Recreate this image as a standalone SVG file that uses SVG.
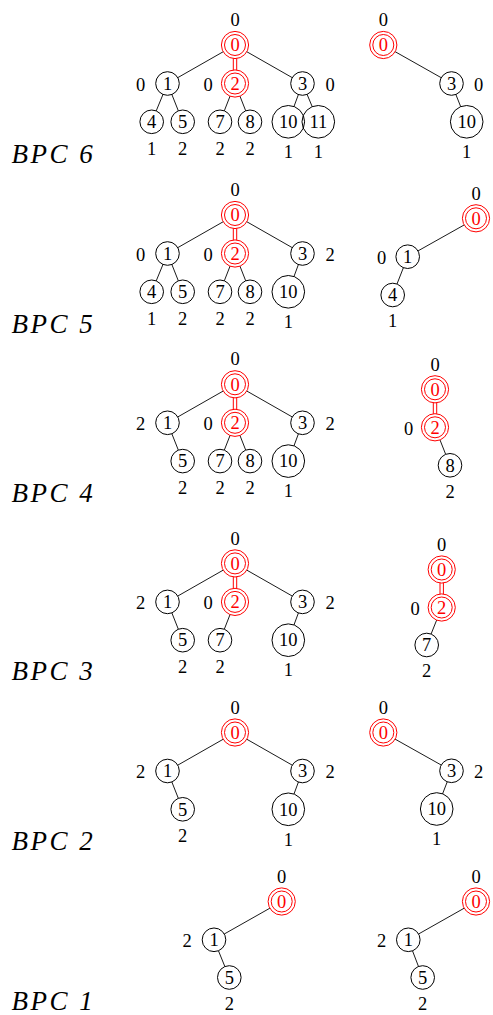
<svg xmlns="http://www.w3.org/2000/svg" width="493" height="1015" viewBox="0 0 493 1015">
  <style>
    text { font-family: "Liberation Serif", "DejaVu Serif", serif; font-size: 18.5px; text-anchor: middle; fill: #000; }
    .n circle { fill: #fff; stroke: #000; stroke-width: 1; }
    .n .hollow { fill: none; }
    .r circle { fill: #fff; stroke: #f00; stroke-width: 1; }
    .r .in { fill: none; }
    .r text { fill: #f00; }
    .e line { stroke: #000; stroke-width: 0.9; }
    .e .dbl { stroke: #f00; stroke-width: 4.4; }
    .e .dblc { stroke: #fff; stroke-width: 2.4; }
    .bpc { font-size: 27px; font-style: italic; text-anchor: start; letter-spacing: 2.5px; }
  </style>

  <!-- row titles -->
  <g id="titles">
    <text class="bpc" x="11.5" y="163">BPC 6</text>
    <text class="bpc" x="11.5" y="333">BPC 5</text>
    <text class="bpc" x="11.5" y="502">BPC 4</text>
    <text class="bpc" x="11.5" y="680">BPC 3</text>
    <text class="bpc" x="11.5" y="850">BPC 2</text>
    <text class="bpc" x="11.5" y="1010">BPC 1</text>
  </g>

  <!-- ===== BPC 6, full tree ===== -->
  <g id="bpc6-left">
    <g id="bpc6-left-edges" class="e">
      <line x1="235" y1="45" x2="167.5" y2="83.5"/>
      <line x1="235" y1="45" x2="302.5" y2="83.5"/>
      <line x1="167.5" y1="83.5" x2="151.7" y2="121.8"/>
      <line x1="167.5" y1="83.5" x2="182.7" y2="121.8"/>
      <line x1="235" y1="83.5" x2="220" y2="121.8"/>
      <line x1="235" y1="83.5" x2="250" y2="121.8"/>
      <line x1="302.5" y1="83.5" x2="288.3" y2="121.8"/>
      <line x1="307" y1="94.2" x2="312.2" y2="106.6"/>
      <line class="dbl" x1="235" y1="45" x2="235" y2="83.5"/>
      <line class="dblc" x1="235" y1="45" x2="235" y2="83.5"/>
    </g>
    <g id="bpc6-l-n0" class="r" transform="translate(235,45)"><circle r="13.6"/><circle class="in" r="10.5"/><text y="6.2">0</text></g>
    <g id="bpc6-l-n1" class="n" transform="translate(167.5,83.5)"><circle r="11.8"/><text y="6.2">1</text></g>
    <g id="bpc6-l-n2" class="r" transform="translate(235,83.5)"><circle r="13.6"/><circle class="in" r="10.5"/><text y="6.2">2</text></g>
    <g id="bpc6-l-n3" class="n" transform="translate(302.5,83.5)"><circle r="11.8"/><text y="6.2">3</text></g>
    <g id="bpc6-l-n4" class="n" transform="translate(151.7,121.8)"><circle r="11.8"/><text y="6.2">4</text></g>
    <g id="bpc6-l-n5" class="n" transform="translate(182.7,121.8)"><circle r="11.8"/><text y="6.2">5</text></g>
    <g id="bpc6-l-n7" class="n" transform="translate(220,121.8)"><circle r="11.8"/><text y="6.2">7</text></g>
    <g id="bpc6-l-n8" class="n" transform="translate(250,121.8)"><circle r="11.8"/><text y="6.2">8</text></g>
    <g id="bpc6-l-n10" class="n" transform="translate(288.3,121.8)"><circle r="16.3"/><text y="6.2">10</text></g>
    <g id="bpc6-l-n11" class="n" transform="translate(318.3,121.8)"><circle class="hollow" r="16.3"/><text y="6.2">11</text></g>
    <g id="bpc6-left-labels">
      <text x="235" y="26.2">0</text>
      <text x="140.7" y="90.7">0</text>
      <text x="208" y="90.7">0</text>
      <text x="330" y="90.7">0</text>
      <text x="151.7" y="154.5">1</text>
      <text x="182.7" y="154.5">2</text>
      <text x="220" y="154.5">2</text>
      <text x="250" y="154.5">2</text>
      <text x="288.3" y="158">1</text>
      <text x="318.3" y="158">1</text>
    </g>
  </g>

  <g id="bpc6-right">
    <g id="bpc6-right-edges" class="e">
      <line x1="383.3" y1="45" x2="451.5" y2="83.5"/>
      <line x1="451.5" y1="83.5" x2="466.7" y2="121.8"/>
    </g>
    <g id="bpc6-r-n0" class="r" transform="translate(383.3,45)"><circle r="13.6"/><circle class="in" r="10.5"/><text y="6.2">0</text></g>
    <g id="bpc6-r-n3" class="n" transform="translate(451.5,83.5)"><circle r="11.8"/><text y="6.2">3</text></g>
    <g id="bpc6-r-n10" class="n" transform="translate(466.7,121.8)"><circle r="16.3"/><text y="6.2">10</text></g>
    <g id="bpc6-right-labels">
      <text x="383.3" y="26.2">0</text>
      <text x="478.5" y="90.7">0</text>
      <text x="466.7" y="158">1</text>
    </g>
  </g>

  <!-- ===== BPC 5 ===== -->
  <g id="bpc5-left" transform="translate(0,170)">
    <g id="bpc5-left-edges" class="e">
      <line x1="235" y1="45" x2="167.5" y2="83.5"/>
      <line x1="235" y1="45" x2="302.5" y2="83.5"/>
      <line x1="167.5" y1="83.5" x2="151.7" y2="121.8"/>
      <line x1="167.5" y1="83.5" x2="182.7" y2="121.8"/>
      <line x1="235" y1="83.5" x2="220" y2="121.8"/>
      <line x1="235" y1="83.5" x2="250" y2="121.8"/>
      <line x1="302.5" y1="83.5" x2="288.3" y2="121.8"/>
      <line class="dbl" x1="235" y1="45" x2="235" y2="83.5"/>
      <line class="dblc" x1="235" y1="45" x2="235" y2="83.5"/>
    </g>
    <g id="bpc5-l-n0" class="r" transform="translate(235,45)"><circle r="13.6"/><circle class="in" r="10.5"/><text y="6.2">0</text></g>
    <g id="bpc5-l-n1" class="n" transform="translate(167.5,83.5)"><circle r="11.8"/><text y="6.2">1</text></g>
    <g id="bpc5-l-n2" class="r" transform="translate(235,83.5)"><circle r="13.6"/><circle class="in" r="10.5"/><text y="6.2">2</text></g>
    <g id="bpc5-l-n3" class="n" transform="translate(302.5,83.5)"><circle r="11.8"/><text y="6.2">3</text></g>
    <g id="bpc5-l-n4" class="n" transform="translate(151.7,121.8)"><circle r="11.8"/><text y="6.2">4</text></g>
    <g id="bpc5-l-n5" class="n" transform="translate(182.7,121.8)"><circle r="11.8"/><text y="6.2">5</text></g>
    <g id="bpc5-l-n7" class="n" transform="translate(220,121.8)"><circle r="11.8"/><text y="6.2">7</text></g>
    <g id="bpc5-l-n8" class="n" transform="translate(250,121.8)"><circle r="11.8"/><text y="6.2">8</text></g>
    <g id="bpc5-l-n10" class="n" transform="translate(288.3,121.8)"><circle r="16.3"/><text y="6.2">10</text></g>
    <g id="bpc5-left-labels">
      <text x="235" y="26.2">0</text>
      <text x="140.7" y="90.7">0</text>
      <text x="208" y="90.7">0</text>
      <text x="330" y="90.7">2</text>
      <text x="151.7" y="154.5">1</text>
      <text x="182.7" y="154.5">2</text>
      <text x="220" y="154.5">2</text>
      <text x="250" y="154.5">2</text>
      <text x="288.3" y="158">1</text>
    </g>
  </g>

  <g id="bpc5-right">
    <g id="bpc5-right-edges" class="e">
      <line x1="476" y1="218.3" x2="407.7" y2="256.7"/>
      <line x1="407.7" y1="256.7" x2="392.7" y2="295"/>
    </g>
    <g id="bpc5-r-n0" class="r" transform="translate(476,218.3)"><circle r="13.6"/><circle class="in" r="10.5"/><text y="6.2">0</text></g>
    <g id="bpc5-r-n1" class="n" transform="translate(407.7,256.7)"><circle r="11.8"/><text y="6.2">1</text></g>
    <g id="bpc5-r-n4" class="n" transform="translate(392.7,295)"><circle r="11.8"/><text y="6.2">4</text></g>
    <g id="bpc5-right-labels">
      <text x="476" y="199.5">0</text>
      <text x="381.7" y="263.9">0</text>
      <text x="392.7" y="327.2">1</text>
    </g>
  </g>

  <!-- ===== BPC 4 ===== -->
  <g id="bpc4-left" transform="translate(0,339.3)">
    <g id="bpc4-left-edges" class="e">
      <line x1="235" y1="45" x2="167.5" y2="83.5"/>
      <line x1="235" y1="45" x2="302.5" y2="83.5"/>
      <line x1="167.5" y1="83.5" x2="182.7" y2="121.8"/>
      <line x1="235" y1="83.5" x2="220" y2="121.8"/>
      <line x1="235" y1="83.5" x2="250" y2="121.8"/>
      <line x1="302.5" y1="83.5" x2="288.3" y2="121.8"/>
      <line class="dbl" x1="235" y1="45" x2="235" y2="83.5"/>
      <line class="dblc" x1="235" y1="45" x2="235" y2="83.5"/>
    </g>
    <g id="bpc4-l-n0" class="r" transform="translate(235,45)"><circle r="13.6"/><circle class="in" r="10.5"/><text y="6.2">0</text></g>
    <g id="bpc4-l-n1" class="n" transform="translate(167.5,83.5)"><circle r="11.8"/><text y="6.2">1</text></g>
    <g id="bpc4-l-n2" class="r" transform="translate(235,83.5)"><circle r="13.6"/><circle class="in" r="10.5"/><text y="6.2">2</text></g>
    <g id="bpc4-l-n3" class="n" transform="translate(302.5,83.5)"><circle r="11.8"/><text y="6.2">3</text></g>
    <g id="bpc4-l-n5" class="n" transform="translate(182.7,121.8)"><circle r="11.8"/><text y="6.2">5</text></g>
    <g id="bpc4-l-n7" class="n" transform="translate(220,121.8)"><circle r="11.8"/><text y="6.2">7</text></g>
    <g id="bpc4-l-n8" class="n" transform="translate(250,121.8)"><circle r="11.8"/><text y="6.2">8</text></g>
    <g id="bpc4-l-n10" class="n" transform="translate(288.3,121.8)"><circle r="16.3"/><text y="6.2">10</text></g>
    <g id="bpc4-left-labels">
      <text x="235" y="26.2">0</text>
      <text x="140.7" y="90.7">2</text>
      <text x="208" y="90.7">0</text>
      <text x="330" y="90.7">2</text>
      <text x="182.7" y="154.5">2</text>
      <text x="220" y="154.5">2</text>
      <text x="250" y="154.5">2</text>
      <text x="288.3" y="158">1</text>
    </g>
  </g>

  <g id="bpc4-right">
    <g id="bpc4-right-edges" class="e">
      <line x1="435" y1="427.3" x2="450" y2="465.3"/>
      <line class="dbl" x1="435" y1="389.3" x2="435" y2="427.3"/>
      <line class="dblc" x1="435" y1="389.3" x2="435" y2="427.3"/>
    </g>
    <g id="bpc4-r-n0" class="r" transform="translate(435,389.3)"><circle r="13.6"/><circle class="in" r="10.5"/><text y="6.2">0</text></g>
    <g id="bpc4-r-n2" class="r" transform="translate(435,427.3)"><circle r="13.6"/><circle class="in" r="10.5"/><text y="6.2">2</text></g>
    <g id="bpc4-r-n8" class="n" transform="translate(450,465.3)"><circle r="11.8"/><text y="6.2">8</text></g>
    <g id="bpc4-right-labels">
      <text x="435" y="370.5">0</text>
      <text x="408.5" y="434.5">0</text>
      <text x="450" y="497.5">2</text>
    </g>
  </g>

  <!-- ===== BPC 3 ===== -->
  <g id="bpc3-left" transform="translate(0,518.4)">
    <g id="bpc3-left-edges" class="e">
      <line x1="235" y1="45" x2="167.5" y2="83.5"/>
      <line x1="235" y1="45" x2="302.5" y2="83.5"/>
      <line x1="167.5" y1="83.5" x2="182.7" y2="121.8"/>
      <line x1="235" y1="83.5" x2="220" y2="121.8"/>
      <line x1="302.5" y1="83.5" x2="288.3" y2="121.8"/>
      <line class="dbl" x1="235" y1="45" x2="235" y2="83.5"/>
      <line class="dblc" x1="235" y1="45" x2="235" y2="83.5"/>
    </g>
    <g id="bpc3-l-n0" class="r" transform="translate(235,45)"><circle r="13.6"/><circle class="in" r="10.5"/><text y="6.2">0</text></g>
    <g id="bpc3-l-n1" class="n" transform="translate(167.5,83.5)"><circle r="11.8"/><text y="6.2">1</text></g>
    <g id="bpc3-l-n2" class="r" transform="translate(235,83.5)"><circle r="13.6"/><circle class="in" r="10.5"/><text y="6.2">2</text></g>
    <g id="bpc3-l-n3" class="n" transform="translate(302.5,83.5)"><circle r="11.8"/><text y="6.2">3</text></g>
    <g id="bpc3-l-n5" class="n" transform="translate(182.7,121.8)"><circle r="11.8"/><text y="6.2">5</text></g>
    <g id="bpc3-l-n7" class="n" transform="translate(220,121.8)"><circle r="11.8"/><text y="6.2">7</text></g>
    <g id="bpc3-l-n10" class="n" transform="translate(288.3,121.8)"><circle r="16.3"/><text y="6.2">10</text></g>
    <g id="bpc3-left-labels">
      <text x="235" y="26.2">0</text>
      <text x="140.7" y="90.7">2</text>
      <text x="208" y="90.7">0</text>
      <text x="330" y="90.7">2</text>
      <text x="182.7" y="154.5">2</text>
      <text x="220" y="154.5">2</text>
      <text x="288.3" y="158">1</text>
    </g>
  </g>

  <g id="bpc3-right">
    <g id="bpc3-right-edges" class="e">
      <line x1="441.7" y1="607.5" x2="426.7" y2="645"/>
      <line class="dbl" x1="441.7" y1="569.5" x2="441.7" y2="607.5"/>
      <line class="dblc" x1="441.7" y1="569.5" x2="441.7" y2="607.5"/>
    </g>
    <g id="bpc3-r-n0" class="r" transform="translate(441.7,569.5)"><circle r="13.6"/><circle class="in" r="10.5"/><text y="6.2">0</text></g>
    <g id="bpc3-r-n2" class="r" transform="translate(441.7,607.5)"><circle r="13.6"/><circle class="in" r="10.5"/><text y="6.2">2</text></g>
    <g id="bpc3-r-n7" class="n" transform="translate(426.7,645)"><circle r="11.8"/><text y="6.2">7</text></g>
    <g id="bpc3-right-labels">
      <text x="441.7" y="550.7">0</text>
      <text x="415" y="614.7">0</text>
      <text x="426.7" y="677.2">2</text>
    </g>
  </g>

  <!-- ===== BPC 2 ===== -->
  <g id="bpc2-left" transform="translate(0,687.5)">
    <g id="bpc2-left-edges" class="e">
      <line x1="235" y1="45" x2="167.5" y2="83.5"/>
      <line x1="235" y1="45" x2="302.5" y2="83.5"/>
      <line x1="167.5" y1="83.5" x2="182.7" y2="121.8"/>
      <line x1="302.5" y1="83.5" x2="288.3" y2="121.8"/>
    </g>
    <g id="bpc2-l-n0" class="r" transform="translate(235,45)"><circle r="13.6"/><circle class="in" r="10.5"/><text y="6.2">0</text></g>
    <g id="bpc2-l-n1" class="n" transform="translate(167.5,83.5)"><circle r="11.8"/><text y="6.2">1</text></g>
    <g id="bpc2-l-n3" class="n" transform="translate(302.5,83.5)"><circle r="11.8"/><text y="6.2">3</text></g>
    <g id="bpc2-l-n5" class="n" transform="translate(182.7,121.8)"><circle r="11.8"/><text y="6.2">5</text></g>
    <g id="bpc2-l-n10" class="n" transform="translate(288.3,121.8)"><circle r="16.3"/><text y="6.2">10</text></g>
    <g id="bpc2-left-labels">
      <text x="235" y="26.2">0</text>
      <text x="140.7" y="90.7">2</text>
      <text x="330" y="90.7">2</text>
      <text x="182.7" y="154.5">2</text>
      <text x="288.3" y="158">1</text>
    </g>
  </g>

  <g id="bpc2-right">
    <g id="bpc2-right-edges" class="e">
      <line x1="383.3" y1="732.5" x2="451.5" y2="770.8"/>
      <line x1="451.5" y1="770.8" x2="436.7" y2="809"/>
    </g>
    <g id="bpc2-r-n0" class="r" transform="translate(383.3,732.5)"><circle r="13.6"/><circle class="in" r="10.5"/><text y="6.2">0</text></g>
    <g id="bpc2-r-n3" class="n" transform="translate(451.5,770.8)"><circle r="11.8"/><text y="6.2">3</text></g>
    <g id="bpc2-r-n10" class="n" transform="translate(436.7,809)"><circle r="16.3"/><text y="6.2">10</text></g>
    <g id="bpc2-right-labels">
      <text x="383.3" y="713.7">0</text>
      <text x="478.5" y="778">2</text>
      <text x="436.7" y="845.2">1</text>
    </g>
  </g>

  <!-- ===== BPC 1 ===== -->
  <g id="bpc1-left">
    <g id="bpc1-left-edges" class="e">
      <line x1="281.7" y1="901.5" x2="214" y2="939.8"/>
      <line x1="214" y1="939.8" x2="229.3" y2="977.5"/>
    </g>
    <g id="bpc1-l-n0" class="r" transform="translate(281.7,901.5)"><circle r="13.6"/><circle class="in" r="10.5"/><text y="6.2">0</text></g>
    <g id="bpc1-l-n1" class="n" transform="translate(214,939.8)"><circle r="11.8"/><text y="6.2">1</text></g>
    <g id="bpc1-l-n5" class="n" transform="translate(229.3,977.5)"><circle r="11.8"/><text y="6.2">5</text></g>
    <g id="bpc1-left-labels">
      <text x="281.7" y="882.7">0</text>
      <text x="187" y="947">2</text>
      <text x="229.3" y="1010">2</text>
    </g>
  </g>

  <g id="bpc1-right">
    <g id="bpc1-right-edges" class="e">
      <line x1="476" y1="901.5" x2="408.3" y2="939.8"/>
      <line x1="408.3" y1="939.8" x2="422.7" y2="977.5"/>
    </g>
    <g id="bpc1-r-n0" class="r" transform="translate(476,901.5)"><circle r="13.6"/><circle class="in" r="10.5"/><text y="6.2">0</text></g>
    <g id="bpc1-r-n1" class="n" transform="translate(408.3,939.8)"><circle r="11.8"/><text y="6.2">1</text></g>
    <g id="bpc1-r-n5" class="n" transform="translate(422.7,977.5)"><circle r="11.8"/><text y="6.2">5</text></g>
    <g id="bpc1-right-labels">
      <text x="476" y="882.7">0</text>
      <text x="381.5" y="947">2</text>
      <text x="422.7" y="1010">2</text>
    </g>
  </g>
</svg>
